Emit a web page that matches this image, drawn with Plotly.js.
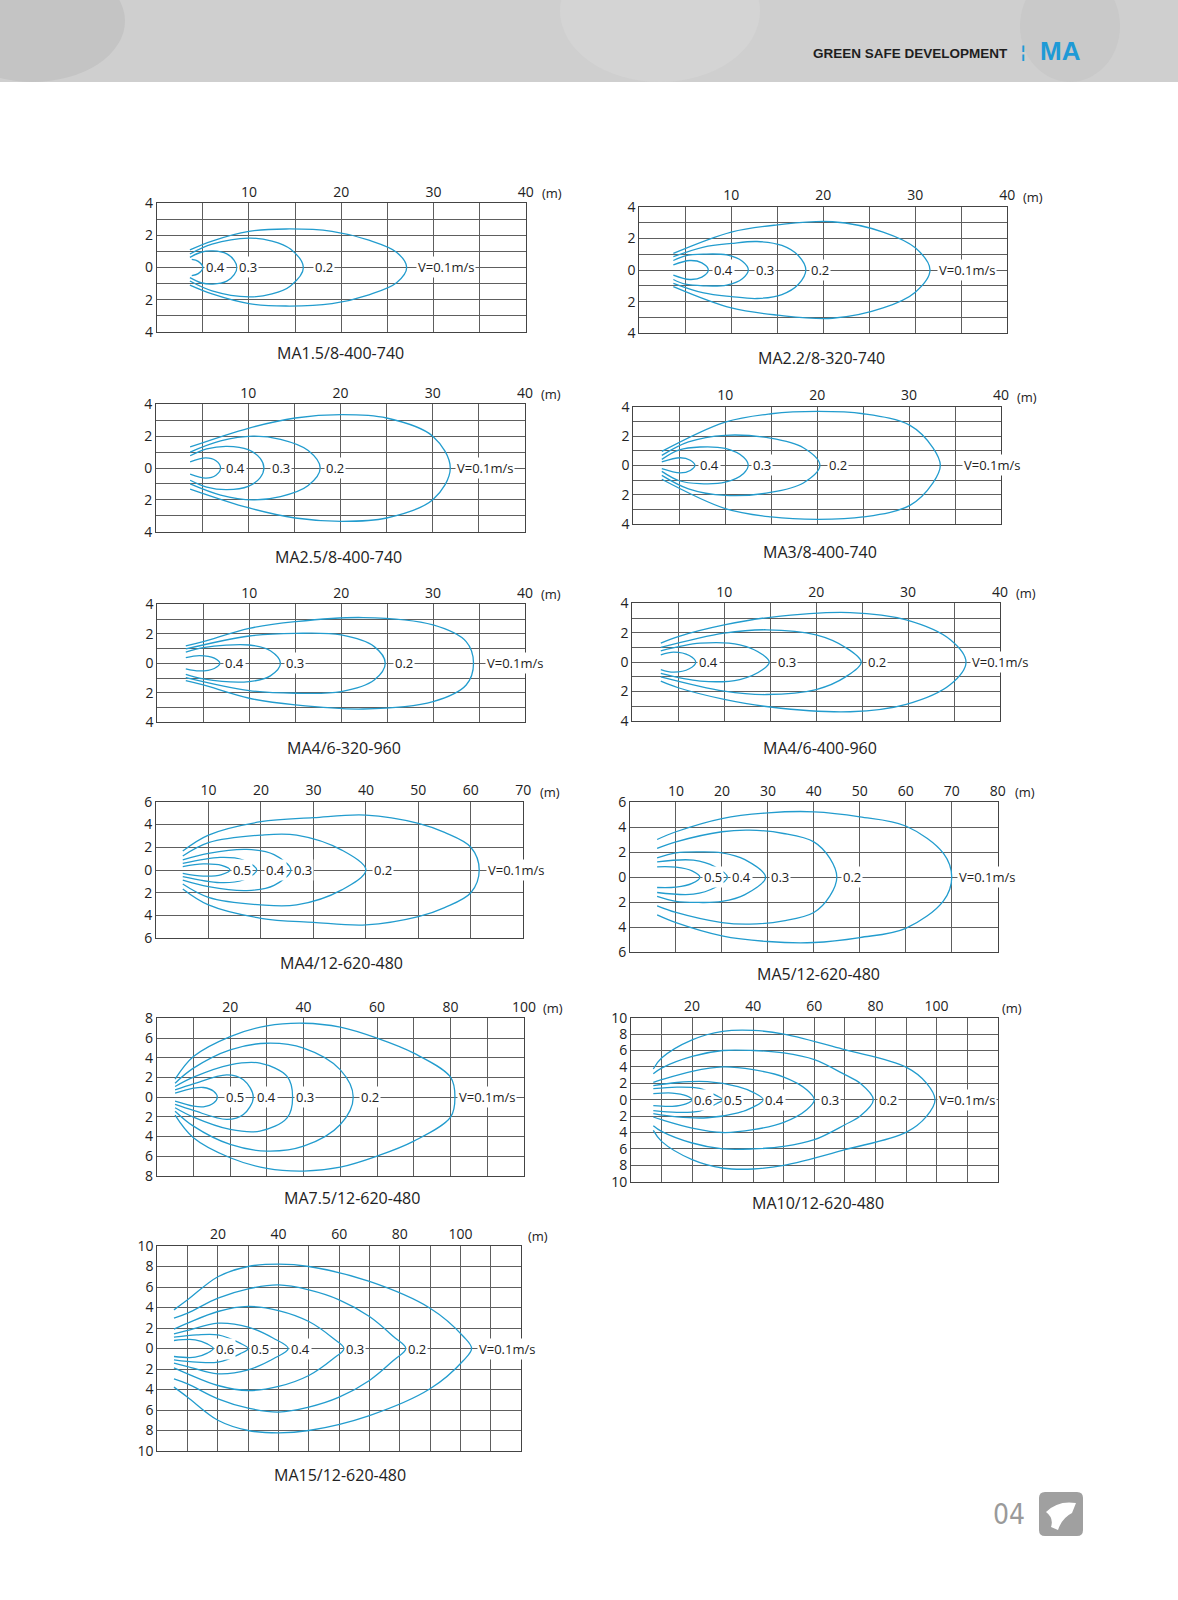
<!DOCTYPE html>
<html>
<head>
<meta charset="utf-8">
<script src="https://cdn.plot.ly/plotly-3.0.1.min.js"></script>
<style>
  body { margin: 0; background: #fff; }
  #page { width: 1178px; height: 1600px; }
</style>
</head>
<body>
<div id="page"></div>
<script>
// ---- tick values / labels ----
var x40Ticks = [0, 5, 10, 15, 20, 25, 30, 35, 40];
var x40Text = ['', '', '10', '', '20', '', '30', '', '40'];
var y4Ticks = [-4, -3, -2, -1, 0, 1, 2, 3, 4];
var y4Text = ['4', '', '2', '', '0', '', '2', '', '4'];
var x70Ticks = [0, 10, 20, 30, 40, 50, 60, 70];
var x70Text = ['', '10', '20', '30', '40', '50', '60', '70'];
var x80Ticks = [0, 10, 20, 30, 40, 50, 60, 70, 80];
var x80Text = ['', '10', '20', '30', '40', '50', '60', '70', '80'];
var y6Ticks = [-6, -4, -2, 0, 2, 4, 6];
var y6Text = ['6', '4', '2', '0', '2', '4', '6'];
var x100Ticks = [0, 10, 20, 30, 40, 50, 60, 70, 80, 90, 100];
var x100Text = ['', '', '20', '', '40', '', '60', '', '80', '', '100'];
var y8Ticks = [-8, -6, -4, -2, 0, 2, 4, 6, 8];
var y8Text = ['8', '6', '4', '2', '0', '2', '4', '6', '8'];
var x120Ticks = [0, 10, 20, 30, 40, 50, 60, 70, 80, 90, 100, 110, 120];
var x120Text = ['', '', '20', '', '40', '', '60', '', '80', '', '100', '', ''];
var y10Ticks = [-10, -8, -6, -4, -2, 0, 2, 4, 6, 8, 10];
var y10Text = ['10', '8', '6', '4', '2', '0', '2', '4', '6', '8', '10'];

// ---- contour data: upper half of each curve, from the nozzle to the tip on the axis ----
// MA1.5/8-400-740
var c1Levels = ['0.4', '0.3', '0.2', 'V=0.1m/s'];
var c1LabelX = [6.4, 9.9, 18.1, 31.4];
var c1CurveX = [
    [3.8, 4.5, 5.0],
    [3.6, 4.8, 6.1, 7.6, 8.4, 8.7],
    [3.6, 6, 10, 12.5, 14.5, 15.9],
    [3.6, 6, 10, 14, 19, 23, 26, 27.1]
];
var c1CurveY = [
    [0.5, 0.38, 0],
    [0.63, 0.95, 1.03, 0.85, 0.45, 0],
    [0.84, 1.45, 1.83, 1.65, 1.15, 0],
    [1.1, 1.65, 2.25, 2.4, 2.25, 1.7, 0.95, 0]
];

// MA2.2/8-320-740
var c2Levels = ['0.4', '0.3', '0.2', 'V=0.1m/s'];
var c2LabelX = [9.1, 13.7, 19.6, 35.6];
var c2CurveX = [
    [3.7, 5.5, 6.8, 7.5],
    [3.7, 5, 7, 9.5, 11.2, 11.85],
    [3.7, 7, 10, 12.8, 15.5, 17.3, 18.1],
    [3.7, 10, 15, 21, 26.5, 30, 31.6]
];
var c2CurveY = [
    [0.32, 0.6, 0.45, 0],
    [0.6, 0.9, 1.0, 0.95, 0.55, 0],
    [0.84, 1.45, 1.68, 1.8, 1.55, 0.9, 0],
    [1.05, 2.4, 2.85, 3.05, 2.4, 1.4, 0]
];

// MA2.5/8-400-740
var c3Levels = ['0.4', '0.3', '0.2', 'V=0.1m/s'];
var c3LabelX = [8.6, 13.5, 19.4, 35.7];
var c3CurveX = [
    [3.7, 5.4, 6.5, 7.0],
    [3.7, 5.5, 7.7, 10, 11.3, 11.7],
    [3.7, 7, 10.5, 13.5, 16.5, 17.8],
    [3.7, 10.1, 15.1, 20.1, 25, 30, 31.9]
];
var c3CurveY = [
    [0.38, 0.63, 0.45, 0],
    [0.77, 1.2, 1.36, 1.15, 0.6, 0],
    [1.0, 1.7, 2.0, 1.8, 1.1, 0],
    [1.32, 2.51, 3.14, 3.35, 3.14, 2.0, 0]
];

// MA3/8-400-740
var c4Levels = ['0.4', '0.3', '0.2', 'V=0.1m/s'];
var c4LabelX = [8.3, 14.0, 22.3, 39.0];
var c4CurveX = [
    [3.1, 5.1, 6.2, 6.7],
    [3.1, 5, 7.25, 10, 12, 12.5],
    [3.1, 6, 10, 14.9, 18.5, 20.3],
    [3.1, 10, 15, 20.1, 25, 30.1, 32.6, 33.4]
];
var c4CurveY = [
    [0.23, 0.52, 0.35, 0],
    [0.41, 1.05, 1.25, 1.15, 0.55, 0],
    [0.68, 1.6, 2.05, 1.85, 1.2, 0],
    [0.95, 2.95, 3.52, 3.68, 3.52, 2.73, 1.2, 0]
];

// MA4/6-320-960
var c5Levels = ['0.4', '0.3', '0.2', 'V=0.1m/s'];
var c5LabelX = [8.4, 15.0, 26.8, 38.9];
var c5CurveX = [
    [3.1, 4.6, 6.2, 6.8],
    [3.1, 5, 10, 12.3, 13.4],
    [3.1, 10, 15, 20, 23.6, 24.8],
    [3.1, 5, 10, 15, 22.4, 30, 33.6, 34.4]
];
var c5CurveY = [
    [0.38, 0.52, 0.35, 0],
    [0.75, 1.06, 1.24, 0.85, 0],
    [0.97, 1.85, 2.03, 1.92, 1.13, 0],
    [1.18, 1.47, 2.37, 2.82, 3.1, 2.6, 1.47, 0]
];

// MA4/6-400-960
var c6Levels = ['0.4', '0.3', '0.2', 'V=0.1m/s'];
var c6LabelX = [8.3, 16.8, 26.6, 40.0];
var c6CurveX = [
    [3.1, 4.5, 6.2, 6.9],
    [3.1, 7.4, 11.7, 14.2, 14.9],
    [3.1, 10, 14.6, 20, 23.2, 24.9],
    [3.1, 5, 10, 15, 23.7, 29.8, 34.6, 36.3]
];
var c6CurveY = [
    [0.5, 0.68, 0.45, 0],
    [0.77, 1.29, 1.18, 0.5, 0],
    [1.0, 1.97, 2.2, 1.86, 1.0, 0],
    [1.29, 1.74, 2.53, 3.05, 3.37, 2.87, 1.52, 0]
];

// MA4/12-620-480
var c7Levels = ['0.5', '0.4', '0.3', '0.2', 'V=0.1m/s'];
var c7LabelX = [16.3, 22.7, 28.1, 43.3, 68.7];
var c7CurveX = [
    [5.1, 9, 12.5, 14.1],
    [5.1, 12.2, 16.5, 19.2],
    [5.1, 10, 17.3, 22.5, 25.7],
    [5.1, 10, 20, 26.8, 35.4, 40],
    [5.1, 10, 20, 30, 40, 50, 55, 60, 61.6]
];
var c7CurveY = [
    [0.29, 0.53, 0.4, 0],
    [0.58, 1.11, 0.9, 0],
    [0.88, 1.46, 1.81, 1.35, 0],
    [1.23, 2.4, 3.07, 3.07, 1.75, 0],
    [1.67, 3.07, 4.24, 4.6, 4.82, 4.1, 3.3, 2.0, 0]
];

// MA5/12-620-480
var c8Levels = ['0.5', '0.4', '0.3', '0.2', 'V=0.1m/s'];
var c8LabelX = [18.0, 24.3, 32.6, 48.2, 77.6];
var c8CurveX = [
    [5.9, 10, 13.5, 15.2],
    [5.9, 13.8, 18.5, 21.2],
    [5.9, 10, 15, 20, 25, 29.5],
    [5.9, 10, 20, 26, 33.4, 40, 43.5, 45],
    [5.9, 10, 20, 30, 40, 50, 60, 68.2, 70]
];
var c8CurveY = [
    [0.83, 0.8, 0.5, 0],
    [1.23, 1.36, 0.83, 0],
    [1.55, 1.95, 2.03, 1.95, 1.4, 0],
    [2.3, 2.83, 3.64, 3.77, 3.5, 2.83, 1.5, 0],
    [3.02, 3.64, 4.7, 5.16, 5.24, 4.84, 4.1, 1.9, 0]
];

// MA7.5/12-620-480
var c9Levels = ['0.5', '0.4', '0.3', '0.2', 'V=0.1m/s'];
var c9LabelX = [21.3, 29.9, 40.4, 58.1, 89.8];
var c9CurveX = [
    [5, 10, 12.7, 15.5, 16.5],
    [5, 10, 19.1, 23.6, 26.3],
    [5, 10, 20, 28.1, 35.5, 37],
    [5, 10, 20, 30, 40, 50, 53.5],
    [5, 10, 20, 30, 40, 50, 60, 70, 80, 81.2]
];
var c9CurveY = [
    [0.4, 0.91, 0.98, 0.6, 0],
    [0.74, 1.35, 2.26, 1.76, 0],
    [1.08, 2.03, 3.28, 3.45, 2.1, 0],
    [1.42, 2.94, 4.8, 5.47, 4.97, 2.77, 0],
    [1.82, 4.12, 6.15, 7.23, 7.5, 7.1, 5.98, 4.46, 2.03, 0]
];

// MA10/12-620-480
var c10Levels = ['0.6', '0.5', '0.4', '0.3', '0.2', 'V=0.1m/s'];
var c10LabelX = [23.7, 33.5, 47.1, 65.1, 84.2, 109.8];
var c10CurveX = [
    [7.3, 13.5, 18, 20],
    [7.3, 15, 22.5, 28, 30],
    [7.3, 15, 25, 35, 40, 43.3],
    [7.3, 10, 20, 30, 40, 50, 57.5, 60],
    [7.3, 10, 20, 30, 40, 50, 60, 70, 75, 79.3],
    [7.3, 10, 20, 30, 40, 50, 70, 90, 96.7, 99.5]
];
var c10CurveY = [
    [0.73, 0.81, 0.5, 0],
    [1.34, 1.54, 1.38, 0.49, 0],
    [1.71, 2.1, 2.2, 1.6, 0.9, 0],
    [2.11, 2.44, 3.46, 4.0, 3.66, 2.76, 1.22, 0],
    [3.17, 3.86, 5.28, 6.0, 6.0, 5.7, 4.88, 3.05, 2.0, 0],
    [3.74, 5.08, 7.3, 8.33, 8.45, 8.0, 6.1, 3.98, 2.03, 0]
];

// MA15/12-620-480
var c11Levels = ['0.6', '0.5', '0.4', '0.3', '0.2', 'V=0.1m/s'];
var c11LabelX = [22.3, 33.9, 47.1, 65.2, 85.6, 115.3];
var c11CurveX = [
    [5.5, 12.5, 16.5, 18.5],
    [5.5, 13, 20, 27.3, 30],
    [5.5, 10, 20, 30, 38.3, 43.2],
    [5.5, 10, 20, 30, 40, 50, 58, 61.6],
    [5.5, 10, 20, 30, 40, 50, 60, 70, 77.9, 82],
    [5.5, 10, 20, 30, 40, 50, 70, 90, 101, 103.7]
];
var c11CurveY = [
    [0.78, 0.85, 0.45, 0],
    [1.1, 1.33, 1.33, 0.52, 0],
    [1.43, 1.76, 2.47, 2.08, 1.0, 0],
    [1.89, 2.47, 3.61, 4.1, 3.7, 2.63, 1.0, 0],
    [2.96, 3.45, 4.91, 5.82, 6.2, 5.72, 4.75, 3.12, 1.17, 0],
    [3.77, 4.75, 7.0, 8.0, 8.23, 8.0, 6.54, 3.93, 1.17, 0]
];

// ---- page layout (pixels on the 1178 x 1600 page) ----
var W = 1178, H = 1600;
var blue = 'rgb(34,156,206)';
var gridColor = '#5e5e5e';
var font = 'Open Sans, Noto Sans, sans-serif';

var charts = [
    {title: 'MA1.5/8-400-740', levels: c1Levels, labelX: c1LabelX, cx: c1CurveX, cy: c1CurveY,
     xt: x40Ticks, xl: x40Text, yt: y4Ticks, yl: y4Text, box: [156.7, 525.7, 203.3, 331.7], at: [340, 352.7], m: 14},
    {title: 'MA2.2/8-320-740', levels: c2Levels, labelX: c2LabelX, cx: c2CurveX, cy: c2CurveY,
     xt: x40Ticks, xl: x40Text, yt: y4Ticks, yl: y4Text, box: [639.3, 1007.3, 206.7, 333.3], at: [821.7, 358], m: 14},
    {title: 'MA2.5/8-400-740', levels: c3Levels, labelX: c3LabelX, cx: c3CurveX, cy: c3CurveY,
     xt: x40Ticks, xl: x40Text, yt: y4Ticks, yl: y4Text, box: [156, 525, 404.3, 531.7], at: [338, 556.7], m: 14},
    {title: 'MA3/8-400-740', levels: c4Levels, labelX: c4LabelX, cx: c4CurveX, cy: c4CurveY,
     xt: x40Ticks, xl: x40Text, yt: y4Ticks, yl: y4Text, box: [633.3, 1001, 406.7, 524], at: [820, 551.7], m: 14},
    {title: 'MA4/6-320-960', levels: c5Levels, labelX: c5LabelX, cx: c5CurveX, cy: c5CurveY,
     xt: x40Ticks, xl: x40Text, yt: y4Ticks, yl: y4Text, box: [157.3, 525, 604.3, 722.3], at: [344, 748.3], m: 14},
    {title: 'MA4/6-400-960', levels: c6Levels, labelX: c6LabelX, cx: c6CurveX, cy: c6CurveY,
     xt: x40Ticks, xl: x40Text, yt: y4Ticks, yl: y4Text, box: [632.3, 1000, 603.3, 721], at: [820, 748.3], m: 14},
    {title: 'MA4/12-620-480', levels: c7Levels, labelX: c7LabelX, cx: c7CurveX, cy: c7CurveY,
     xt: x70Ticks, xl: x70Text, yt: y6Ticks, yl: y6Text, box: [156, 523.3, 801.7, 938.3], at: [341.7, 963.3], m: 15},
    {title: 'MA5/12-620-480', levels: c8Levels, labelX: c8LabelX, cx: c8CurveX, cy: c8CurveY,
     xt: x80Ticks, xl: x80Text, yt: y6Ticks, yl: y6Text, box: [630, 997.7, 802.3, 952], at: [818.3, 974], m: 15},
    {title: 'MA7.5/12-620-480', levels: c9Levels, labelX: c9LabelX, cx: c9CurveX, cy: c9CurveY,
     xt: x100Ticks, xl: x100Text, yt: y8Ticks, yl: y8Text, box: [156.7, 524, 1018.3, 1176], at: [351.7, 1198.3], m: 17},
    {title: 'MA10/12-620-480', levels: c10Levels, labelX: c10LabelX, cx: c10CurveX, cy: c10CurveY,
     xt: x120Ticks, xl: x120Text, yt: y10Ticks, yl: y10Text, box: [631, 997.7, 1017.7, 1181.7], at: [818.3, 1203.3], m: 2},
    {title: 'MA15/12-620-480', levels: c11Levels, labelX: c11LabelX, cx: c11CurveX, cy: c11CurveY,
     xt: x120Ticks, xl: x120Text, yt: y10Ticks, yl: y10Text, box: [157.3, 521, 1246, 1451], at: [340, 1475], m: 5}
];

function px(x) { return x / W; }
function py(y) { return 1 - y / H; }

var data = [];
var annotations = [];
var shapes = [];
var layout = {
    width: W,
    height: H,
    margin: {t: 0, b: 0, l: 0, r: 0},
    paper_bgcolor: 'white',
    plot_bgcolor: 'white',
    showlegend: false,
    font: {family: font, color: '#222', size: 13}
};

// header band
shapes.push({type: 'rect', xref: 'paper', yref: 'paper', x0: 0, x1: 1, y0: py(82), y1: 1,
    fillcolor: 'rgb(207,207,207)', line: {width: 0}, layer: 'below'});
shapes.push({type: 'circle', xref: 'paper', yref: 'paper', x0: px(-60), x1: px(125), y0: py(82), y1: py(-40),
    fillcolor: 'rgb(196,196,196)', line: {width: 0}, layer: 'below'});
shapes.push({type: 'circle', xref: 'paper', yref: 'paper', x0: px(560), x1: px(760), y0: py(82), y1: py(-60),
    fillcolor: 'rgb(212,212,212)', line: {width: 0}, layer: 'below'});
shapes.push({type: 'circle', xref: 'paper', yref: 'paper', x0: px(1020), x1: px(1120), y0: py(82), y1: py(-30),
    fillcolor: 'rgb(201,201,201)', line: {width: 0}, layer: 'below'});
annotations.push({xref: 'paper', yref: 'paper', x: px(1010), y: py(54), xanchor: 'right', yanchor: 'middle',
    text: '<b>GREEN SAFE DEVELOPMENT</b>', showarrow: false,
    font: {family: 'Liberation Sans, Arial, sans-serif', size: 13.5, color: '#1e1e1e'}});
annotations.push({xref: 'paper', yref: 'paper', x: px(1023), y: py(52), xanchor: 'center', yanchor: 'middle',
    text: '<b>¦</b>', showarrow: false, font: {family: 'DejaVu Sans, sans-serif', size: 17, color: '#1e9ad6'}});
annotations.push({xref: 'paper', yref: 'paper', x: px(1038), y: py(51), xanchor: 'left', yanchor: 'middle',
    text: '<b>MA</b>', showarrow: false, font: {family: 'Liberation Sans, Arial, sans-serif', size: 26, color: '#1e9ad6'}});

// footer page number and badge
annotations.push({xref: 'paper', yref: 'paper', x: px(1009), y: py(1514), xanchor: 'center', yanchor: 'middle',
    text: '04', showarrow: false,
    font: {family: 'Liberation Sans Narrow, DejaVu Sans Condensed, sans-serif', size: 28, color: '#9a9a9a'}});
function roundRect(x0, y0, x1, y1, r) {
    return 'M' + px(x0 + r) + ',' + py(y0) + ' L' + px(x1 - r) + ',' + py(y0) +
        ' Q' + px(x1) + ',' + py(y0) + ' ' + px(x1) + ',' + py(y0 + r) +
        ' L' + px(x1) + ',' + py(y1 - r) +
        ' Q' + px(x1) + ',' + py(y1) + ' ' + px(x1 - r) + ',' + py(y1) +
        ' L' + px(x0 + r) + ',' + py(y1) +
        ' Q' + px(x0) + ',' + py(y1) + ' ' + px(x0) + ',' + py(y1 - r) +
        ' L' + px(x0) + ',' + py(y0 + r) +
        ' Q' + px(x0) + ',' + py(y0) + ' ' + px(x0 + r) + ',' + py(y0) + ' Z';
}
shapes.push({type: 'path', xref: 'paper', yref: 'paper', path: roundRect(1039, 1492, 1083, 1536, 6),
    fillcolor: 'rgb(160,160,160)', line: {width: 0}});
shapes.push({type: 'path', xref: 'paper', yref: 'paper',
    path: 'M' + px(1046) + ',' + py(1512) + ' Q' + px(1058) + ',' + py(1500) + ' ' + px(1076) + ',' + py(1503) +
        ' L' + px(1072) + ',' + py(1513) + ' Q' + px(1062) + ',' + py(1518) + ' ' + px(1058) + ',' + py(1530) +
        ' L' + px(1051) + ',' + py(1527) + ' Q' + px(1054) + ',' + py(1518) + ' ' + px(1046) + ',' + py(1512) + ' Z',
    fillcolor: 'white', line: {width: 0}});

charts.forEach(function(c, i) {
    var n = i + 1;
    var xa = n === 1 ? 'xaxis' : 'xaxis' + n;
    var ya = n === 1 ? 'yaxis' : 'yaxis' + n;
    var xr = n === 1 ? 'x' : 'x' + n;
    var yr = n === 1 ? 'y' : 'y' + n;
    var xMax = c.xt[c.xt.length - 1];
    var yMax = c.yt[c.yt.length - 1];

    layout[xa] = {
        domain: [px(c.box[0]), px(c.box[1])],
        anchor: yr,
        side: 'top',
        range: [0, xMax],
        tickmode: 'array',
        tickvals: c.xt,
        ticktext: c.xl,
        ticks: '',
        showgrid: true,
        gridcolor: gridColor,
        gridwidth: 1,
        zeroline: false,
        showline: true,
        mirror: true,
        linecolor: '#444',
        linewidth: 1,
        fixedrange: true,
        tickfont: {size: 14, color: '#222'}
    };
    layout[ya] = {
        domain: [py(c.box[3]), py(c.box[2])],
        anchor: xr,
        range: [-yMax, yMax],
        tickmode: 'array',
        tickvals: c.yt,
        ticktext: c.yl,
        ticks: '',
        showgrid: true,
        gridcolor: gridColor,
        gridwidth: 1,
        zeroline: false,
        showline: true,
        mirror: true,
        linecolor: '#444',
        linewidth: 1,
        fixedrange: true,
        tickfont: {size: 14, color: '#222'}
    };

    // contours: upper half, then mirrored back along the lower half
    c.cx.forEach(function(xs, k) {
        var ys = c.cy[k];
        var fullX = xs.concat(xs.slice(0, -1).reverse());
        var fullY = ys.concat(ys.slice(0, -1).reverse().map(function(v) { return -v; }));
        data.push({
            x: fullX,
            y: fullY,
            xaxis: xr,
            yaxis: yr,
            type: 'scatter',
            mode: 'lines',
            line: {color: blue, width: 1.3, shape: 'spline', smoothing: 1},
            hoverinfo: 'none',
            showlegend: false
        });
    });

    // velocity labels on the centre line
    c.levels.forEach(function(t, k) {
        annotations.push({
            xref: xr, yref: yr, x: c.labelX[k], y: 0,
            text: t, showarrow: false, bgcolor: 'white', borderpad: 1,
            font: {size: 13, color: '#222'}
        });
    });

    // unit and chart name
    annotations.push({xref: 'paper', yref: 'paper', x: px(c.box[1] + c.m), y: py(c.box[2] - 10),
        xanchor: 'left', yanchor: 'middle', text: '(m)', showarrow: false, font: {size: 13, color: '#222'}});
    annotations.push({xref: 'paper', yref: 'paper', x: px(c.at[0]), y: py(c.at[1]),
        xanchor: 'center', yanchor: 'middle', text: c.title, showarrow: false, font: {size: 16, color: '#222'}});
});

layout.shapes = shapes;
layout.annotations = annotations;

Plotly.newPlot('page', data, layout, {displayModeBar: false, staticPlot: true});
</script>
</body>
</html>
